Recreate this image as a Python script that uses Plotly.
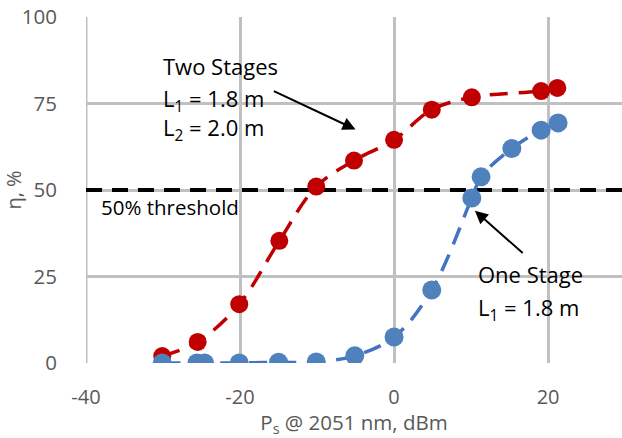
import plotly.graph_objects as go

# Data
two_x = [-30.1, -25.5, -20.1, -14.9, -10.1, -5.2, 0.0, 4.9, 10.1, 19.1, 21.2]
two_y = [2.0, 6.1, 17.0, 35.3, 51.0, 58.5, 64.5, 73.2, 76.8, 78.6, 79.5]

one_x = [-30.1, -25.6, -24.6, -20.1, -15.0, -10.1, -5.1, 0.0, 4.9, 10.1, 11.3, 15.3, 19.1, 21.3]
one_y = [0.0, 0.0, 0.0, 0.0, 0.2, 0.3, 2.1, 7.5, 21.1, 47.7, 53.8, 62.0, 67.3, 69.4]

threshold = 50
x_ticks = [-40, -20, 0, 20]
x_labels = ["-40", "-20", "0", "20"]
y_ticks = [0, 25, 50, 75, 100]

RED = "#C00000"
BLUE = "#4F81BD"
FONT = "Open Sans"
GRID = "#C0C0C0"

fig = go.Figure()

fig.add_trace(go.Scatter(
    x=[-40, 30], y=[threshold, threshold], mode="lines",
    line=dict(color="black", width=4, dash="16px,10px"), showlegend=False, hoverinfo="skip"))

fig.add_trace(go.Scatter(
    x=two_x, y=two_y, mode="lines+markers", line_shape="spline",
    line=dict(color=RED, width=3.5, dash="18px,11px"),
    marker=dict(color=RED, size=18), showlegend=False))

fig.add_trace(go.Scatter(
    x=one_x, y=one_y, mode="lines+markers", line_shape="spline",
    line=dict(color="#4472C4", width=3.5, dash="18px,11px"),
    marker=dict(color=BLUE, size=19), showlegend=False))

def label(x, y, text, size=22):
    fig.add_annotation(x=x, y=y, xref="x", yref="y", xanchor="left", yanchor="top",
                       text=text, showarrow=False, align="left",
                       font=dict(family=FONT, size=size, color="black"))

label(-30.3, 90.8, "Two Stages")
label(-30.3, 81.6, "L<sub>1</sub> = 1.8 m")
label(-30.3, 73.0, "L<sub>2</sub> = 2.0 m")
fig.add_annotation(x=-5.0, y=67.5, ax=-15.8, ay=78.8, xref="x", yref="y", axref="x", ayref="y",
                   text="", showarrow=True, arrowhead=2, arrowsize=1.3, arrowwidth=2, arrowcolor="black")

label(10.7, 30.5, "One Stage")
label(10.7, 21.2, "L<sub>1</sub> = 1.8 m")
fig.add_annotation(x=10.5, y=44.0, ax=16.9, ay=31.4, xref="x", yref="y", axref="x", ayref="y",
                   text="", showarrow=True, arrowhead=2, arrowsize=1.3, arrowwidth=2, arrowcolor="black")

label(-38.3, 49.6, "50% threshold", size=20.5)

# gridline at the left edge of the range (x = -40)
fig.add_shape(type="line", xref="x", yref="y", x0=x_ticks[0], x1=x_ticks[0], y0=y_ticks[0], y1=y_ticks[-1],
              line=dict(color=GRID, width=3), layer="below")

fig.update_layout(
    width=622, height=438,
    margin=dict(l=86, r=0, t=17, b=75),
    plot_bgcolor="white", paper_bgcolor="white",
    font=dict(family=FONT, color="#595959"),
)
fig.update_xaxes(range=[-40, 29.6], tickvals=x_ticks, ticktext=x_labels,
                 showgrid=True, gridcolor=GRID, gridwidth=3,
                 zeroline=False, showline=False, ticks="outside", ticklen=16, tickcolor="rgba(0,0,0,0)",
                 tickfont=dict(family=FONT, size=20, color="#595959"),
                 title=dict(text="P<sub>s</sub> @ 2051 nm, dBm", font=dict(family=FONT, size=20.5, color="#595959"), standoff=7))
fig.update_yaxes(range=[0, 100], tickvals=y_ticks, showgrid=True, gridcolor=GRID, gridwidth=3,
                 zeroline=False, showline=False,
                 ticks="outside", ticklen=24, tickcolor="rgba(0,0,0,0)",
                 tickfont=dict(family=FONT, size=20.5, color="#595959"),
                 title=dict(text="η, %", font=dict(family=FONT, size=20, color="#595959"), standoff=0))

fig.write_html("out.html")
